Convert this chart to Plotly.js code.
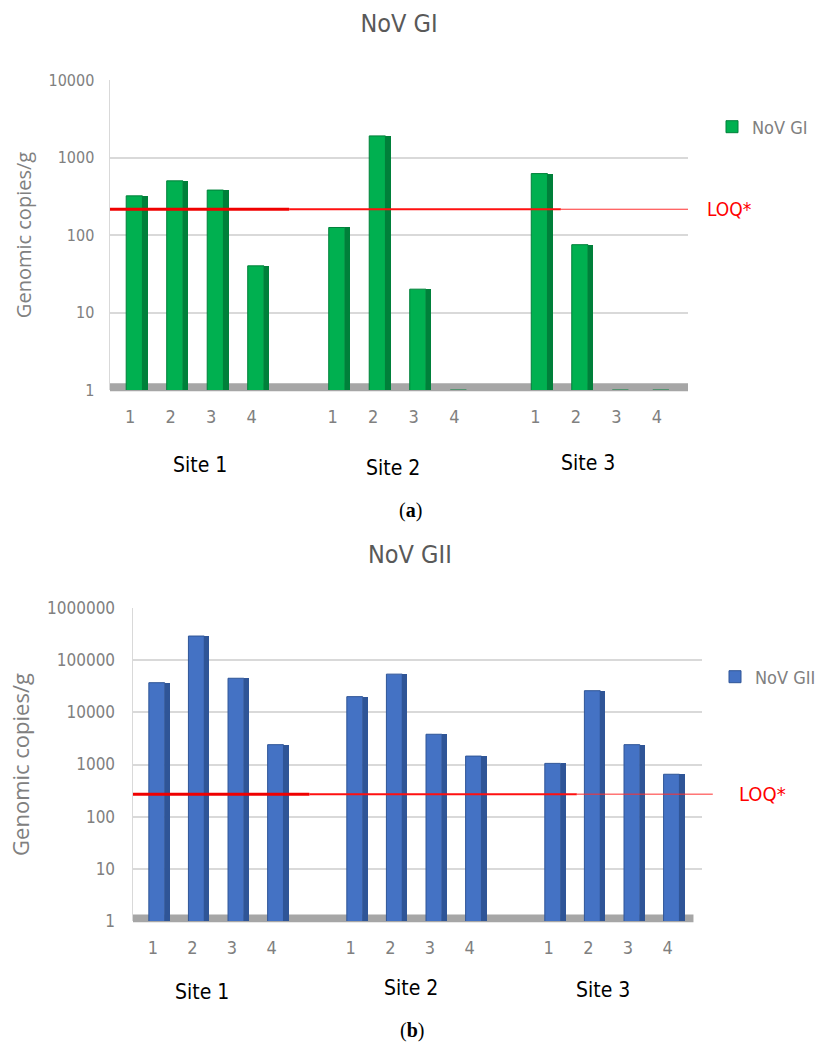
<!DOCTYPE html>
<html>
<head>
<meta charset="utf-8">
<script src="https://cdn.plot.ly/plotly-3.0.1.min.js"></script>
<style>html,body{margin:0;padding:0;background:#fff}#chart{width:821px;height:1048px}</style>
</head>
<body>
<div id="chart"></div>
<script>
// ---- data ----
const sites = ['Site 1', 'Site 2', 'Site 3'];
const samples = ['1', '2', '3', '4'];
// NoV GI genomic copies/g (1 = not detected, drawn at the axis floor)
const giSite1 = [320, 500, 380, 40];
const giSite2 = [125, 1900, 20, 1];
const giSite3 = [620, 75, 1, 1];
// NoV GII genomic copies/g
const giiSite1 = [37000, 290000, 45000, 2400];
const giiSite2 = [20000, 54000, 3800, 1450];
const giiSite3 = [1050, 26000, 2400, 650];
// limit of quantification line, as drawn in each panel
const loqGI = 215;
const loqGII = 270;
const giTicks = [1, 10, 100, 1000, 10000];
const giTickText = ['1', '10', '100', '1000', '10000'];
const giiTicks = [1, 10, 100, 1000, 10000, 100000, 1000000];
const giiTickText = ['1', '10', '100', '1000', '10000', '100000', '1000000'];

// ---- positions built from the categories ----
const slotX = [], slotText = [];
sites.forEach((s, si) => samples.forEach((sm, j) => { slotX.push(si * (samples.length + 1) + j); slotText.push(sm); }));
const giVals = [].concat(giSite1, giSite2, giSite3);
const giiVals = [].concat(giiSite1, giiSite2, giiSite3);

const narrow = '"Liberation Sans Narrow", "DejaVu Sans Condensed", Arial, sans-serif';
const grey = '#808080';
const W = 821, H = 1048;

function barPair(vals, name, front, side, xa, ya, lg) {
  return [
    {type: 'bar', x: slotX, y: vals, name: name, xaxis: xa, yaxis: ya, width: 0.40, offset: -0.1,
     marker: {color: front, line: {color: side, width: 1}}, legend: lg, hoverinfo: 'y'},
    {type: 'bar', x: slotX, y: vals, name: name + ' side', xaxis: xa, yaxis: ya, width: 0.13, offset: 0.30,
     marker: {color: side, line: {width: 0}}, showlegend: false, hoverinfo: 'skip'}
  ];
}
const traces = [].concat(
  barPair(giVals, 'NoV GI', '#00B050', '#00803A', 'x', 'y', 'legend'),
  barPair(giiVals, 'NoV GII', '#4472C4', '#2F5597', 'x2', 'y2', 'legend2')
);

function xAxis(domain, anchor, range) {
  return {domain: domain, anchor: anchor, range: range, showgrid: false, zeroline: false, showline: false,
    tickmode: 'array', tickvals: slotX, ticktext: slotText, ticks: '', ticklabelstandoff: 14,
    tickfont: {family: narrow, size: 18, color: grey}, fixedrange: true};
}
function yAxis(domain, anchor, range, tv, tt, fs, tfs, standoff) {
  return {domain: domain, anchor: anchor, type: 'log', range: range, tickmode: 'array', tickvals: tv, ticktext: tt,
    showgrid: true, gridcolor: '#D9D9D9', gridwidth: 2, showline: true, linecolor: '#D9D9D9', linewidth: 1.5,
    zeroline: false, ticks: '', ticklabelstandoff: standoff, tickfont: {family: narrow, size: fs, color: grey},
    title: {text: 'Genomic copies/g', font: {family: '"Open Sans", sans-serif', size: tfs, color: grey}, standoff: 11},
    fixedrange: true};
}
function loqSegments(xa, ya, loq, end) {
  const xr = xa + ' domain';
  return [
    {type: 'line', xref: xr, yref: ya, x0: 0, x1: 0.31, y0: loq, y1: loq, line: {color: '#F00000', width: 3}},
    {type: 'line', xref: xr, yref: ya, x0: 0.31, x1: 0.78, y0: loq, y1: loq, line: {color: '#FF1010', width: 2}},
    {type: 'line', xref: xr, yref: ya, x0: 0.78, x1: end, y0: loq, y1: loq, line: {color: '#FF3030', width: 1}}
  ];
}
const siteLabel = (s, x, y) => ({text: s, xref: 'paper', yref: 'paper', x: x / W, y: 1 - y / H, xanchor: 'center', yanchor: 'middle',
  showarrow: false, font: {family: narrow, size: 21, color: '#000'}});

const layout = {
  width: W, height: H, margin: {l: 0, r: 0, t: 0, b: 0, autoexpand: false}, paper_bgcolor: '#fff', plot_bgcolor: 'rgba(0,0,0,0)',
  bargap: 0, showlegend: true,
  title: {text: 'NoV GI', x: 399 / W, xanchor: 'center', y: 1 - 23 / H, yanchor: 'middle', font: {family: narrow, size: 25, color: '#595959'}},
  xaxis: xAxis([110 / W, 688 / W], 'y', [-0.5, 13.77]),
  yaxis: yAxis([1 - 390 / H, 1 - 80 / H], 'x', [0, 4], giTicks, giTickText, 16, 20, 11),
  xaxis2: xAxis([133 / W, 702 / W], 'y2', [-0.5, 13.87]),
  yaxis2: yAxis([1 - 921 / H, 1 - 608 / H], 'x2', [0, 6], giiTicks, giiTickText, 17, 22, 13),
  legend: {x: 813 / W, y: 1 - 127 / H, xanchor: 'right', yanchor: 'middle', font: {family: narrow, size: 18, color: grey}, bgcolor: 'rgba(0,0,0,0)'},
  legend2: {x: 1, y: 1 - 677 / H, xanchor: 'right', yanchor: 'middle', font: {family: narrow, size: 18, color: grey}, bgcolor: 'rgba(0,0,0,0)'},
  shapes: [
    {type: 'rect', xref: 'x domain', yref: 'y domain', x0: 0, x1: 1.0, y0: -0.004, y1: 0.022, fillcolor: '#A6A6A6', line: {width: 0}, layer: 'below'},
    {type: 'rect', xref: 'x2 domain', yref: 'y2 domain', x0: 0, x1: 0.985, y0: -0.004, y1: 0.021, fillcolor: '#A6A6A6', line: {width: 0}, layer: 'below'}
  ].concat(loqSegments('x', 'y', loqGI, 1.0), loqSegments('x2', 'y2', loqGII, 1.019)),
  annotations: [
    {text: 'LOQ*', xref: 'x domain', yref: 'y', x: 1.029, y: Math.log10(loqGI), xanchor: 'left', yanchor: 'middle', showarrow: false, font: {family: narrow, size: 19, color: '#FF0000'}},
    {text: 'LOQ*', xref: 'x2 domain', yref: 'y2', x: 1.062, y: Math.log10(loqGII), xanchor: 'left', yanchor: 'middle', showarrow: false, font: {family: narrow, size: 20, color: '#FF0000'}},
    {text: 'NoV GII', xref: 'paper', yref: 'paper', x: 410 / W, y: 1 - 554 / H, xanchor: 'center', yanchor: 'middle', showarrow: false, font: {family: narrow, size: 25, color: '#595959'}},
    {text: '(<b>a</b>)', xref: 'paper', yref: 'paper', x: 410 / W, y: 1 - 510 / H, xanchor: 'center', yanchor: 'middle', showarrow: false, font: {family: '"Liberation Serif", serif', size: 20, color: '#000'}},
    {text: '(<b>b</b>)', xref: 'paper', yref: 'paper', x: 412 / W, y: 1 - 1030 / H, xanchor: 'center', yanchor: 'middle', showarrow: false, font: {family: '"Liberation Serif", serif', size: 20, color: '#000'}},
    siteLabel(sites[0], 200, 465), siteLabel(sites[1], 393, 468), siteLabel(sites[2], 588, 463),
    siteLabel(sites[0], 202, 992), siteLabel(sites[1], 411, 988), siteLabel(sites[2], 603, 990)
  ]
};

Plotly.newPlot('chart', traces, layout, {displayModeBar: false, staticPlot: true});
</script>
</body>
</html>
